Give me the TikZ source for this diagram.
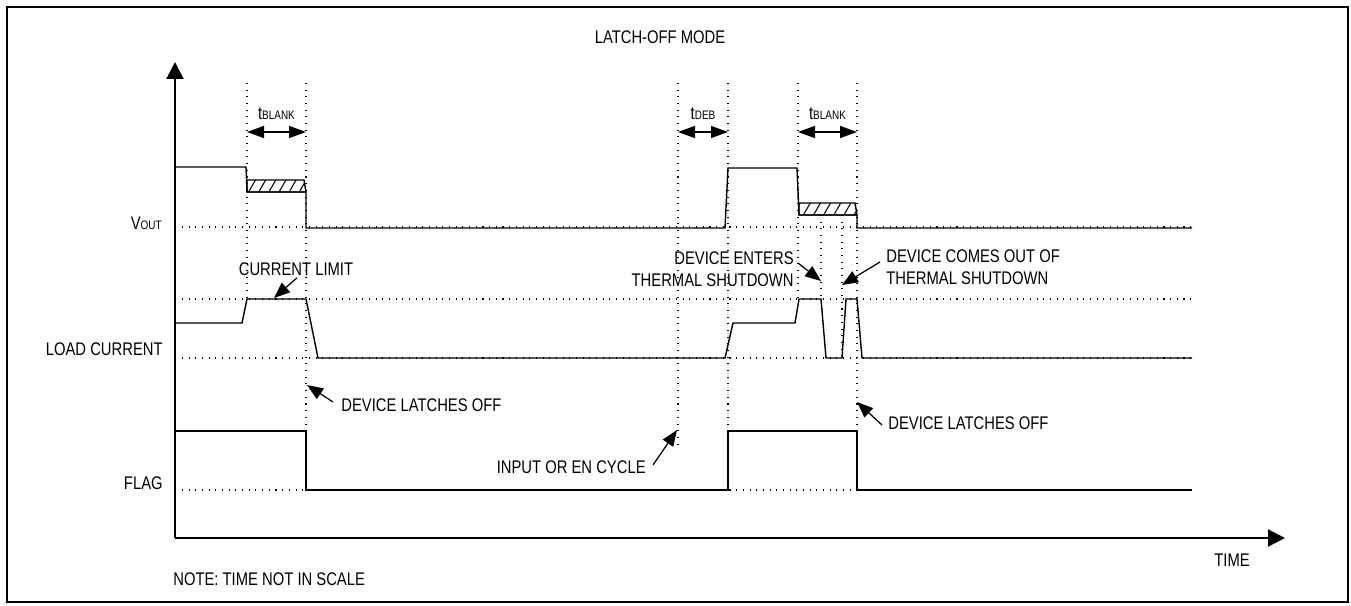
\documentclass[tikz,border=0pt]{standalone}
\usepackage{fontspec}
\setmainfont{Liberation Sans}[FakeStretch=0.81]
\usetikzlibrary{arrows.meta,patterns.meta}

\tikzset{TDsig/.style={line width=0.8pt,line join=miter},
         TDref/.style={line width=0.6pt,dash pattern=on 0.6pt off 3.2pt},
         TDaxis/.style={line width=1.2pt,-{Triangle[length=0.34cm,width=0.34cm]}},
         TDdim/.style={line width=0.8pt,{Triangle[length=0.34cm,width=0.24cm]}-{Triangle[length=0.34cm,width=0.24cm]}},
         TDann/.style={line width=0.7pt,-{Triangle[length=0.32cm,width=0.25cm]}},
         TDhatch/.style={pattern={Lines[angle=60,distance=5pt,line width=0.6pt]}},
         TDlab/.style={font=\fontsize{10.4}{12.5}\selectfont,inner sep=0pt}}
\newcommand{\TDsub}[1]{{\fontsize{7}{7}\selectfont #1}}

\begin{document}
\begin{tikzpicture}[x=0.02cm,y=-0.02cm]
  \useasboundingbox (0,0) rectangle (1351,605);
  \draw[line width=1.1pt] (7,7) rectangle (1348,602);
  % titles and row names
  \node[TDlab] (title) at (660,37) {LATCH-OFF MODE};
  \node[TDlab,anchor=west] (note) at (173,579) {NOTE: TIME NOT IN SCALE};
  \node[TDlab] (time) at (1232,560) {TIME};
  \node[TDlab,anchor=east] (vout) at (162,223) {V\TDsub{OUT}};
  \node[TDlab,anchor=east] (load) at (163,349) {LOAD CURRENT};
  \node[TDlab,anchor=east] (flag) at (163,483) {FLAG};
  % axes
  \coordinate (o) at (175,538); \coordinate (ytop) at (175,62); \coordinate (xend) at (1285,538);
  \draw[TDaxis] (o) -- (ytop); \draw[TDaxis] (o) -- (xend);
  % dotted guides
  \foreach \y in {227,299,358,490} \draw[TDref] (182,\y) -- (1192,\y);
  \foreach \x/\a/\b in {247/83/299,306/83/431,678/83/450,728/83/431,798/83/299,821/215/299,842/215/358,857/83/431}
     \draw[TDref] (\x,\a) -- (\x,\b);
  % blanking and debounce times
  \foreach \a/\b/\n/\t in {247/306/tba/BLANK,678/728/tdeb/DEB,798/857/tbb/BLANK}
     {\coordinate (\n-l) at (\a,132); \coordinate (\n-r) at (\b,132);
      \draw[TDdim] (\n-l) -- (\n-r);
      \node[TDlab] (\n) at ({(\a+\b)/2},114) {t\TDsub{\t}};}
  % VOUT
  \draw[TDsig,TDhatch] (247,180) -- (304,180) -- (306,192) -- (247,192) -- cycle;
  \draw[TDsig,TDhatch] (799,203) -- (855,203) -- (857,215) -- (799,215) -- cycle;
  \draw[TDsig] (175,167) -- (246,167) -- (247,192) -- (306,192) -- (306,228) -- (725,228) -- (728,168)
     -- (797,168) -- (799,215) -- (857,215) -- (857,228) -- (1192,228);
  % load current
  \draw[TDsig] (175,323) -- (242,323) -- (247,299) -- (306,299) -- (318,358) -- (725,358) -- (733,323)
     -- (795,323) -- (799,299) -- (821,299) -- (826,358) -- (842,358) -- (846,299) -- (857,299)
     -- (862,358) -- (1192,358);
  % flag
  \draw[TDsig] (175,431) -- (306,431) -- (306,490) -- (728,490) -- (728,431) -- (857,431) -- (857,490) -- (1192,490);
  % notes
  \node[TDlab] (climit) at (296,269) {CURRENT LIMIT};
  \node[TDlab,anchor=west] (dloa) at (341,405) {DEVICE LATCHES OFF};
  \node[TDlab,anchor=west] (dlob) at (888,423) {DEVICE LATCHES OFF};
  \node[TDlab,anchor=east] (incyc) at (646,467) {INPUT OR EN CYCLE};
  \node[TDlab,anchor=east,align=right] (dent) at (794,269) {DEVICE ENTERS\\THERMAL SHUTDOWN};
  \node[TDlab,anchor=west,align=left] (dout) at (886,267) {DEVICE COMES OUT OF\\THERMAL SHUTDOWN};
  \coordinate (climit-t) at (274,298); \coordinate (dloa-t) at (307,385);
  \coordinate (dlob-t) at (857,402);   \coordinate (incyc-t) at (677,430);
  \coordinate (dent-t) at (821,281);   \coordinate (dout-t) at (842,285);
  \draw[TDann] (climit.south) ++(1,2) -- (climit-t);
  \draw[TDann] (dloa.west) ++(-8,-3) -- (dloa-t);
  \draw[TDann] (dlob.west) ++(-6,2) -- (dlob-t);
  \draw[TDann] (incyc.east) ++(7,-2) -- (incyc-t);
  \draw[TDann] (dent.east) ++(4,-6) -- (dent-t);
  \draw[TDann] (dout.west) ++(-6,-5) -- (dout-t);
\end{tikzpicture}
\end{document}
